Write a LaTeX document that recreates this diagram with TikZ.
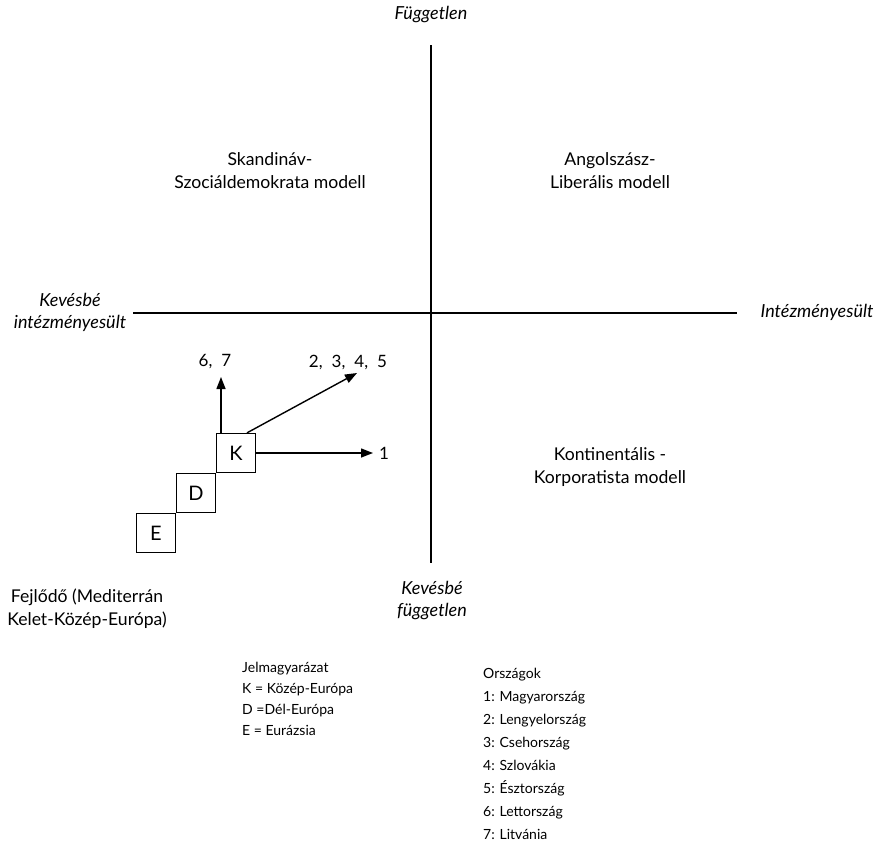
\documentclass[tikz,border=0pt]{standalone}
\usepackage{fontspec}
\setmainfont{Lato}
\usetikzlibrary{arrows.meta, positioning}
\tikzset{
	axlabel/.style={font=\fontsize{18}{22}\selectfont\itshape, align=center, inner sep=0pt},
	reglabel/.style={font=\fontsize{17.6}{23}\selectfont, align=center, inner sep=0pt},
	regbox/.style={draw, line width=1.3pt, minimum size=39pt, inner sep=0pt,
		font=\fontsize{20}{20}\selectfont},
	numlabel/.style={font=\fontsize{17}{17}\selectfont, inner sep=0pt},
	legtext/.style={font=\fontsize{14}{21}\selectfont, align=left, inner sep=0pt, anchor=north west},
	axis/.style={line width=2pt},
	marr/.style={-{Triangle[length=12pt, width=9pt]}, line width=1.4pt}
}

\begin{document}
\begin{tikzpicture}[x=1pt, y=-1pt]
	\useasboundingbox (0,0) rectangle (876,854);
	% axes
	\coordinate (top) at (431,45);
	\coordinate (bot) at (431,563);
	\coordinate (lft) at (133,313);
	\coordinate (rgt) at (737,313);
	\draw[axis] (top) -- (bot);
	\draw[axis] (lft) -- (rgt);
	\node[axlabel] (fugg) at (431,15) {Független};
	\node[axlabel] (kevfugg) at (432,601) {Kevésbé\\független};
	\node[axlabel] (kevint) at (70,312) {Kevésbé\\intézményesült};
	\node[axlabel] (intez) at (817,312) {Intézményesült};
	% quadrants
	\node[reglabel] (skand) at (270,171) {Skandináv-\\Szociáldemokrata modell};
	\node[reglabel] (angol) at (610,171) {Angolszász-\\Liberális modell};
	\node[reglabel] (kont) at (610,467) {Kontinentális -\\Korporatista modell};
	\node[reglabel] (fejl) at (87,609) {Fejlődő (Mediterrán\\Kelet-Közép-Európa)};
	% boxes
	\node[regbox] (K) at (236,453) {K};
	\node[regbox] (D) at (196,493) {D};
	\node[regbox] (E) at (156,533) {E};
	% moves
	\node[numlabel] (n67) at (215,362) {6,\hspace{9pt}7};
	\node[numlabel] (n2345) at (348,362) {2,\hspace{9pt}3,\hspace{9pt}4,\hspace{9pt}5};
	\node[numlabel] (n1) at (384,453) {1};
	\coordinate (t67) at (221,377);
	\coordinate (t2345) at (357,373);
	\coordinate (t1) at (373,453);
	\draw[marr] (K.north -| t67) -- (t67);
	\draw[marr] ([xshift=11pt]K.north) -- (t2345);
	\draw[marr] (K.east) -- (t1);
	% legend
	\node[legtext] (jelm) at (242,662) {Jelmagyarázat\\K = Közép-Európa\\D =Dél-Európa\\E = Eurázsia};
	\node[legtext] (orsz) at (483,668) {Országok\\[2pt]1: Magyarország\\[2pt]2: Lengyelország\\[2pt]3: Csehország\\[2pt]4: Szlovákia\\[2pt]5: Észtország\\[2pt]6: Lettország\\[2pt]7: Litvánia};
\end{tikzpicture}
\end{document}
